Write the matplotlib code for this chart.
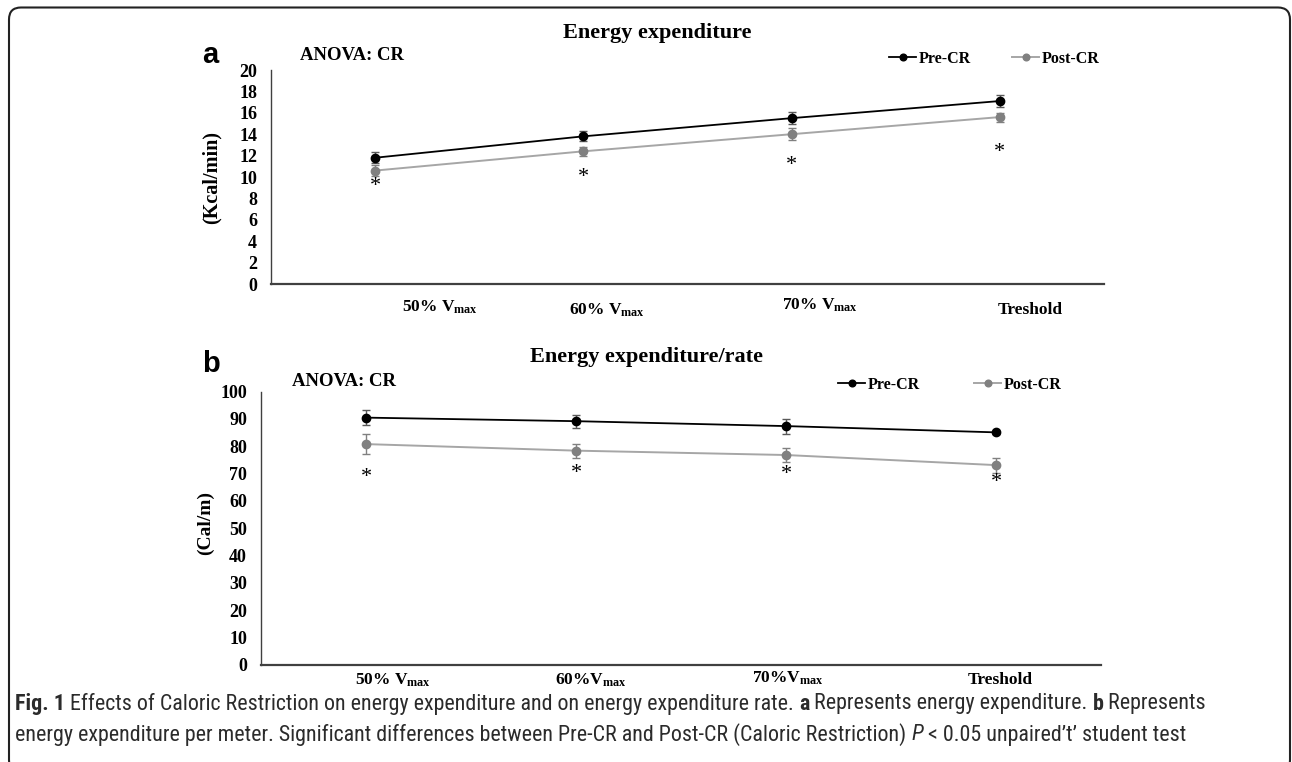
import matplotlib
matplotlib.use('Agg')
import matplotlib.pyplot as plt
import matplotlib.font_manager as fm
from matplotlib.patches import FancyBboxPatch
from matplotlib.transforms import IdentityTransform, blended_transform_factory

plt.rcParams['mathtext.fontset'] = 'custom'
plt.rcParams['mathtext.rm'] = 'Liberation Serif'
plt.rcParams['mathtext.bf'] = 'Liberation Serif:bold'
plt.rcParams['mathtext.it'] = 'Liberation Serif:italic'

# ---- data ------------------------------------------------------------------
top_labels = [r'50% V$_{\mathbf{max}}$', r'60% V$_{\mathbf{max}}$',
              r'70% V$_{\mathbf{max}}$', 'Treshold']
bottom_labels = [r'50% V$_{\mathbf{max}}$', r'60%V$_{\mathbf{max}}$',
                 r'70%V$_{\mathbf{max}}$', 'Treshold']

ee_pre = [11.8, 13.8, 15.5, 17.1]
ee_pre_err = [0.5, 0.47, 0.58, 0.55]
ee_post = [10.6, 12.4, 14.0, 15.6]
ee_post_err = [0.5, 0.45, 0.55, 0.42]
ee_stars = [9.1, 10.0, 11.1, 12.3]

rate_pre = [90.5, 89.2, 87.4, 85.1]
rate_pre_err = [2.75, 2.4, 2.75, 0.5]
rate_post = [80.8, 78.4, 76.8, 73.1]
rate_post_err = [3.7, 2.6, 2.4, 2.75]
rate_stars = [68.7, 70.2, 69.5, 66.9]

W, H = 1292, 762
fig = plt.figure(figsize=(W / 100, H / 100), dpi=100)
fig.patch.set_facecolor('white')

SERIF = 'Liberation Serif'
PRE_C, POST_C, POST_LINE = 'black', '#808080', '#a6a6a6'


def px_axes(left, top, right, bottom):
    return fig.add_axes([left / W, 1 - bottom / H, (right - left) / W, (bottom - top) / H])


def panel(ax, pre, pre_err, post, post_err, stars, ymax, ystep, labels,
          label_off, label_y, title, title_xy, ylabel, ylabel_xy, ylabel_size,
          letter, letter_xy, anova_xy, legend_xy, col_space):
    x = list(range(len(pre)))
    ax.errorbar(x, pre, yerr=pre_err, fmt='none', ecolor='#595959', elinewidth=1, capsize=3)
    ax.errorbar(x, post, yerr=post_err, fmt='none', ecolor='#808080', elinewidth=1, capsize=3)
    ax.plot(x, pre, color=PRE_C, lw=1.3, marker='o', ms=6, label='Pre-CR', zorder=3)
    ax.plot(x, post, color=POST_LINE, lw=1.4, marker='o', ms=6, mfc=POST_C, mec=POST_C,
            label='Post-CR', zorder=3)
    for i, s in enumerate(stars):
        ax.text(i, s, '*', ha='center', va='center', family=SERIF, fontsize=16)

    ax.set_xlim(-0.5, len(pre) - 0.5)
    ax.set_ylim(0, ymax)
    ax.set_xticks([])
    ax.set_yticks(range(0, ymax + 1, ystep))
    ax.set_yticklabels([str(v) for v in range(0, ymax + 1, ystep)],
                       family=SERIF, fontweight='bold', fontsize=13)
    ax.tick_params(axis='y', length=0, pad=10)
    for s in ('top', 'right'):
        ax.spines[s].set_visible(False)
    ax.spines['left'].set_color('#404040')
    ax.spines['left'].set_linewidth(1.0)
    ax.spines['bottom'].set_color('#404040')
    ax.spines['bottom'].set_linewidth(1.6)

    tr = blended_transform_factory(ax.transData, fig.transFigure)
    for i, (lab, off, ly) in enumerate(zip(labels, label_off, label_y)):
        ax.text(i + off, 1 - ly / H, lab, transform=tr, ha='center', va='center',
                family=SERIF, fontweight='bold', fontsize=12.5)

    fig.text(title_xy[0] / W, 1 - title_xy[1] / H, title, ha='center', va='center',
             family=SERIF, fontweight='bold', fontsize=16)
    fig.text(ylabel_xy[0] / W, 1 - ylabel_xy[1] / H, ylabel, ha='center', va='center',
             rotation=90, family=SERIF, fontweight='bold', fontsize=ylabel_size)
    fig.text(letter_xy[0] / W, 1 - letter_xy[1] / H, letter, ha='center', va='center',
             family='Liberation Sans', fontweight='bold', fontsize=21)
    fig.text(anova_xy[0] / W, 1 - anova_xy[1] / H, 'ANOVA: CR', ha='left', va='center',
             family=SERIF, fontweight='bold', fontsize=13.5)
    ax.legend(loc='center left', bbox_to_anchor=(legend_xy[0] / W, 1 - legend_xy[1] / H),
              bbox_transform=fig.transFigure, ncol=2, frameon=False, borderpad=0,
              handlelength=1.7, handletextpad=0.15, columnspacing=col_space, markerscale=0.8,
              prop={'family': SERIF, 'weight': 'bold', 'size': 11.5})


ax1 = px_axes(271, 70, 1104, 284)
panel(ax1, ee_pre, ee_pre_err, ee_post, ee_post_err, ee_stars, 20, 2, top_labels,
      [0.31, 0.115, 0.135, 0.144], [307, 310, 305, 310],
      'Energy expenditure', (657, 33), '(Kcal/min)', (212, 177), 14.5, 'a', (210, 55),
      (300, 55), (881, 59), 2.6)

ax2 = px_axes(261, 391.7, 1101, 664.6)
panel(ax2, rate_pre, rate_pre_err, rate_post, rate_post_err, rate_stars, 100, 10,
      bottom_labels, [0.13, 0.07, 0.01, 0.02], [680, 680, 678, 680],
      'Energy expenditure/rate', (647, 357), '(Cal/m)', (205, 523), 14, 'b', (211, 364),
      (292, 382), (830, 385), 3.4)

# rounded frame around the whole figure
frame = FancyBboxPatch((9, -10), 1281, H + 2.5, boxstyle='round,pad=0,rounding_size=12',
                       transform=IdentityTransform(), fill=False, ec='#222222', lw=1.5)
fig.add_artist(frame)

# caption font: a narrow / condensed sans if one is installed
cap_family, cap_stretch = 'Liberation Sans', 'normal'
names = {f.name for f in fm.fontManager.ttflist}
narrow = [f for f in fm.fontManager.ttflist
          if f.stretch in ('condensed', 'semi-condensed', 'extra-condensed')]
for n in ('Liberation Sans Narrow', 'Roboto Condensed', 'Open Sans Condensed',
          'DejaVu Sans Condensed', 'Noto Sans Condensed'):
    if n in names:
        cap_family = n
        break
else:
    if narrow:
        cap_family, cap_stretch = narrow[0].name, narrow[0].stretch

line1 = [('Fig. 1', 'bold', 'normal'),
         (' Effects of Caloric Restriction on energy expenditure and on energy expenditure rate. ', 'normal', 'normal'),
         ('a', 'bold', 'normal'),
         (' Represents energy expenditure. ', 'normal', 'normal'),
         ('b', 'bold', 'normal'),
         (' Represents', 'normal', 'normal')]
line2 = [('energy expenditure per meter. Significant differences between Pre-CR and Post-CR (Caloric Restriction) ', 'normal', 'normal'),
         ('P', 'normal', 'italic'),
         (' < 0.05 unpaired\u2019t\u2019 student test', 'normal', 'normal')]

fig.canvas.draw()
renderer = fig.canvas.get_renderer()


def draw_line(parts, x0, y, size):
    x = x0
    arts = []
    for txt, wt, st in parts:
        t = fig.text(x / W, 1 - y / H, txt, ha='left', va='center', family=cap_family,
                     stretch=cap_stretch, fontweight=wt, fontstyle=st, fontsize=size,
                     color='#2b2b2b')
        x += t.get_window_extent(renderer).width
        arts.append(t)
    return x - x0, arts


w, arts = draw_line(line1, 15, 703, 14)
for a in arts:
    a.remove()
size = 14 * 1202 / w
draw_line(line1, 15, 704, size)
draw_line(line2, 15, 735, size)

fig.savefig('out.png', dpi=100)
